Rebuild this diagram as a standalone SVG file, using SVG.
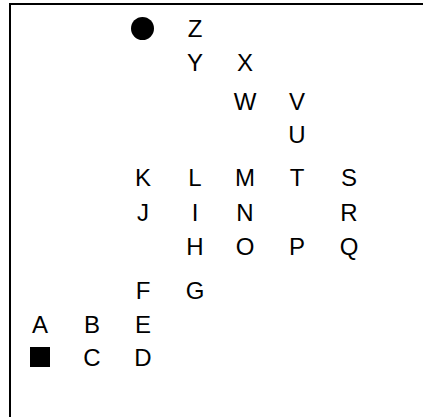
<svg xmlns="http://www.w3.org/2000/svg" width="423" height="417" viewBox="0 0 423 417">
<style>
text{font-family:"Liberation Sans",Arial,sans-serif;font-size:24px;fill:#000;text-anchor:middle}
</style>
<rect width="423" height="417" fill="#fff"/>
<rect id="frame" x="10" y="4" width="500" height="500" fill="none" stroke="#000" stroke-width="2"/>
<g id="connectors"></g>
<g id="start"><circle cx="142.5" cy="28.5" r="11.5" fill="#000"/></g>
<g id="end"><rect x="30" y="347" width="20" height="20" fill="#000"/></g>
<g id="nZ"><text x="195" y="37">Z</text></g>
<g id="nY"><text x="195" y="71">Y</text></g>
<g id="nX"><text x="245" y="71">X</text></g>
<g id="nW"><text x="245" y="110">W</text></g>
<g id="nV"><text x="297" y="110">V</text></g>
<g id="nU"><text x="297" y="143">U</text></g>
<g id="nK"><text x="143" y="186">K</text></g>
<g id="nL"><text x="195" y="186">L</text></g>
<g id="nM"><text x="245" y="186">M</text></g>
<g id="nT"><text x="297" y="186">T</text></g>
<g id="nS"><text x="349" y="186">S</text></g>
<g id="nJ"><text x="143" y="221">J</text></g>
<g id="nI"><text x="195" y="221">I</text></g>
<g id="nN"><text x="245" y="221">N</text></g>
<g id="nR"><text x="349" y="221">R</text></g>
<g id="nH"><text x="195" y="255">H</text></g>
<g id="nO"><text x="245" y="255">O</text></g>
<g id="nP"><text x="297" y="255">P</text></g>
<g id="nQ"><text x="349" y="255">Q</text></g>
<g id="nF"><text x="143" y="299">F</text></g>
<g id="nG"><text x="195" y="299">G</text></g>
<g id="nA"><text x="40" y="333">A</text></g>
<g id="nB"><text x="92" y="333">B</text></g>
<g id="nE"><text x="143" y="333">E</text></g>
<g id="nC"><text x="92" y="366">C</text></g>
<g id="nD"><text x="143" y="366">D</text></g>
</svg>
